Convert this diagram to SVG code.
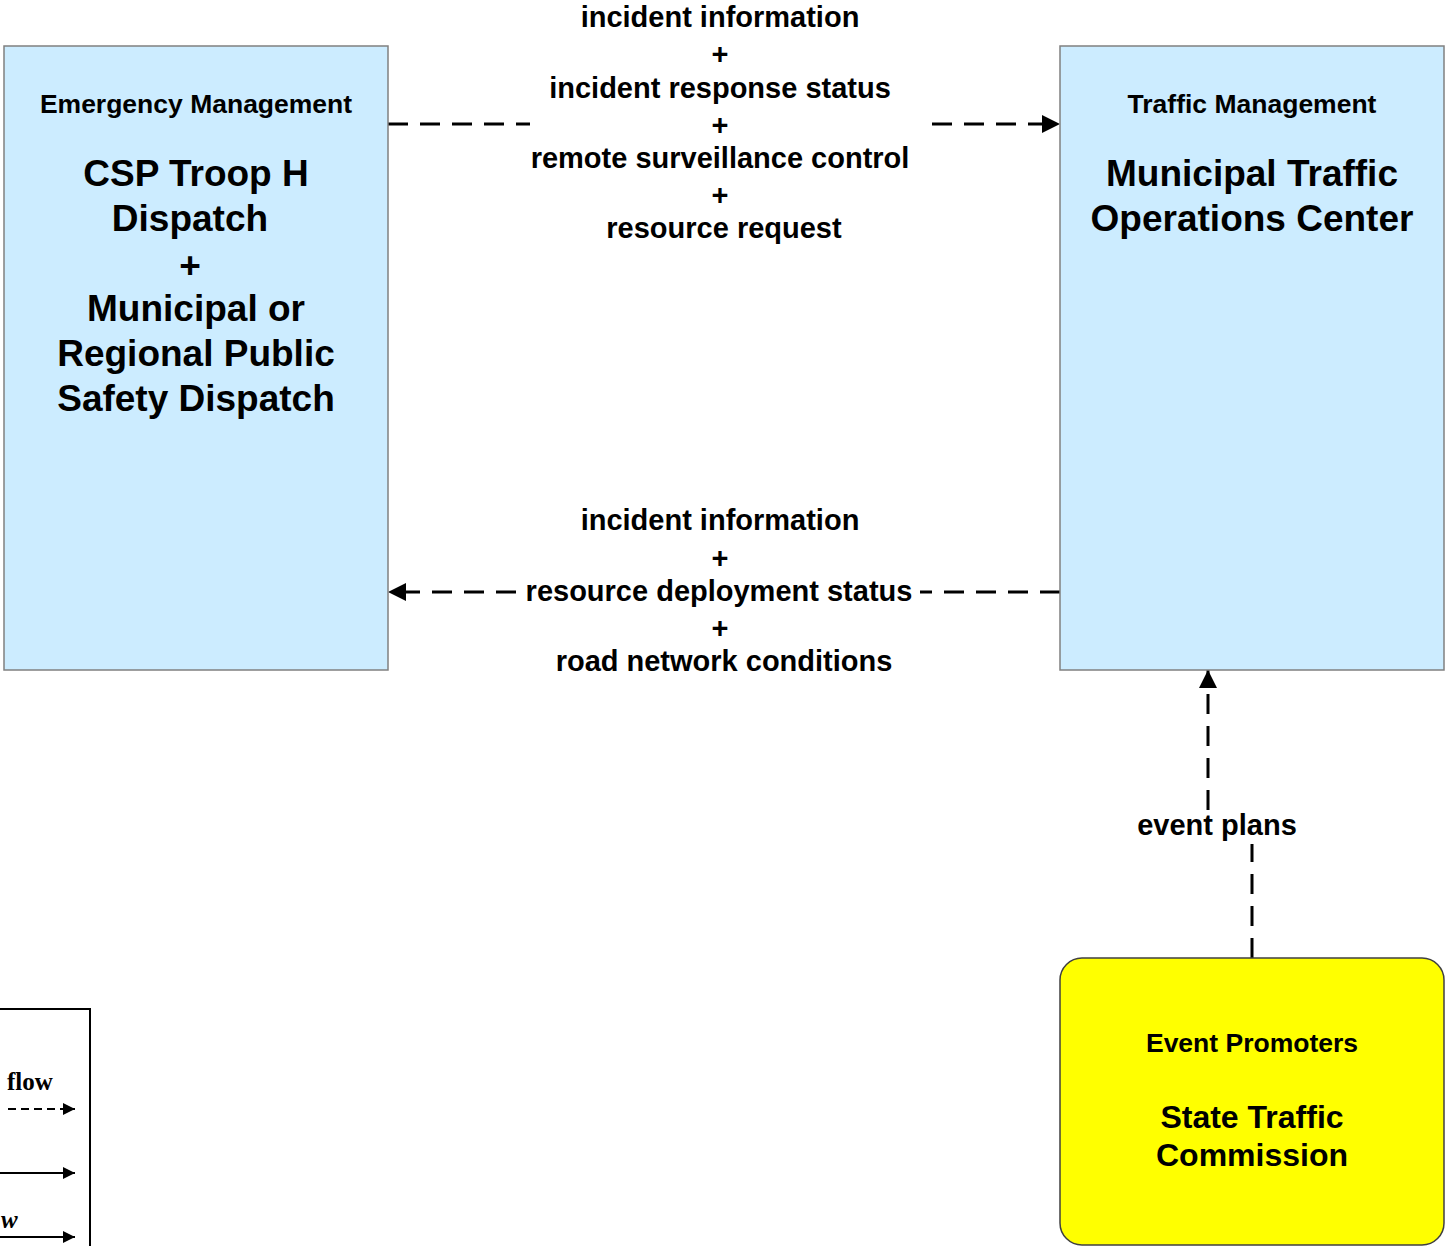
<svg xmlns="http://www.w3.org/2000/svg" width="1445" height="1246" viewBox="0 0 1445 1246">
<defs>
<style>
.box{fill:#CCECFF;stroke:#808080;stroke-width:1.5}
.ext{fill:#FFFF00;stroke:#404040;stroke-width:1.5}
.t{font-family:"Liberation Sans",Arial,sans-serif;font-weight:bold;fill:#000;text-anchor:middle}
.cat{font-size:26.5px}
.nm{font-size:37px}
.nm2{font-size:32px}
.lbl{font-size:29px}
.flow{fill:none;stroke:#000;stroke-width:3;stroke-dasharray:20 12}
.lg{font-family:"Liberation Serif","Times New Roman",serif;font-weight:bold;font-size:25px;fill:#000}
</style>
<marker id="ah" viewBox="0 0 10 10" refX="10" refY="5" markerWidth="6" markerHeight="6" markerUnits="strokeWidth" orient="auto">
<path d="M0,0 L10,5 L0,10 Z" fill="#000"/>
</marker>
<marker id="ahs" viewBox="0 0 10 10" refX="10" refY="5" markerWidth="6" markerHeight="6" markerUnits="strokeWidth" orient="auto">
<path d="M0,0 L10,5 L0,10 Z" fill="#000"/>
</marker>
</defs>
<rect width="1445" height="1246" fill="#fff"/>

<g id="connectors">
<path class="flow" d="M388,124 H1060" marker-end="url(#ah)"/>
<path class="flow" d="M1060,592 H388" marker-end="url(#ah)"/>
<path class="flow" d="M1252,958 V826 H1208 V670" marker-end="url(#ah)"/>
<g id="label-top">
<rect x="530" y="0" width="400" height="245" fill="#fff"/>
<text class="t lbl" x="720" y="27">incident information</text>
<text class="t lbl" x="720" y="64">+</text>
<text class="t lbl" x="720" y="98">incident response status</text>
<text class="t lbl" x="720" y="135">+</text>
<text class="t lbl" x="720" y="168">remote surveillance control</text>
<text class="t lbl" x="720" y="205">+</text>
<text class="t lbl" x="724" y="238">resource request</text>
</g>
<g id="label-bottom">
<rect x="518" y="500" width="402" height="180" fill="#fff"/>
<text class="t lbl" x="720" y="530">incident information</text>
<text class="t lbl" x="720" y="568">+</text>
<text class="t lbl" x="719" y="601">resource deployment status</text>
<text class="t lbl" x="720" y="638">+</text>
<text class="t lbl" x="724" y="671">road network conditions</text>
</g>
<g id="label-event">
<rect x="1134" y="810" width="166" height="34" fill="#fff"/>
<text class="t lbl" x="1217" y="835">event plans</text>
</g>
</g>

<g id="node-emergency">
<rect class="box" x="4" y="46" width="384" height="624"/>
<text class="t cat" x="196" y="113">Emergency Management</text>
<text class="t nm" x="196" y="186">CSP Troop H</text>
<text class="t nm" x="190" y="231">Dispatch</text>
<text class="t nm" x="190" y="278">+</text>
<text class="t nm" x="196" y="321">Municipal or</text>
<text class="t nm" x="196" y="366">Regional Public</text>
<text class="t nm" x="196" y="411">Safety Dispatch</text>
</g>

<g id="node-traffic">
<rect class="box" x="1060" y="46" width="384" height="624"/>
<text class="t cat" x="1252" y="113">Traffic Management</text>
<text class="t nm" x="1252" y="186">Municipal Traffic</text>
<text class="t nm" x="1252" y="231">Operations Center</text>
</g>

<g id="node-event">
<rect class="ext" x="1060" y="958" width="384" height="287" rx="22" ry="22"/>
<text class="t cat" x="1252" y="1052">Event Promoters</text>
<text class="t nm2" x="1252" y="1128">State Traffic</text>
<text class="t nm2" x="1252" y="1166">Commission</text>
</g>

<g id="legend">
<rect x="-10" y="1009" width="100" height="250" fill="#fff" stroke="#000" stroke-width="2"/>
<text class="lg" x="7" y="1090">flow</text>
<path d="M8,1109 H75" fill="none" stroke="#000" stroke-width="2" stroke-dasharray="8 5" marker-end="url(#ahs)"/>
<path d="M0,1173 H75" fill="none" stroke="#000" stroke-width="2" marker-end="url(#ahs)"/>
<text class="lg" x="1" y="1228" font-style="italic">w</text>
<path d="M0,1237 H75" fill="none" stroke="#000" stroke-width="2" marker-end="url(#ahs)"/>
</g>
</svg>
